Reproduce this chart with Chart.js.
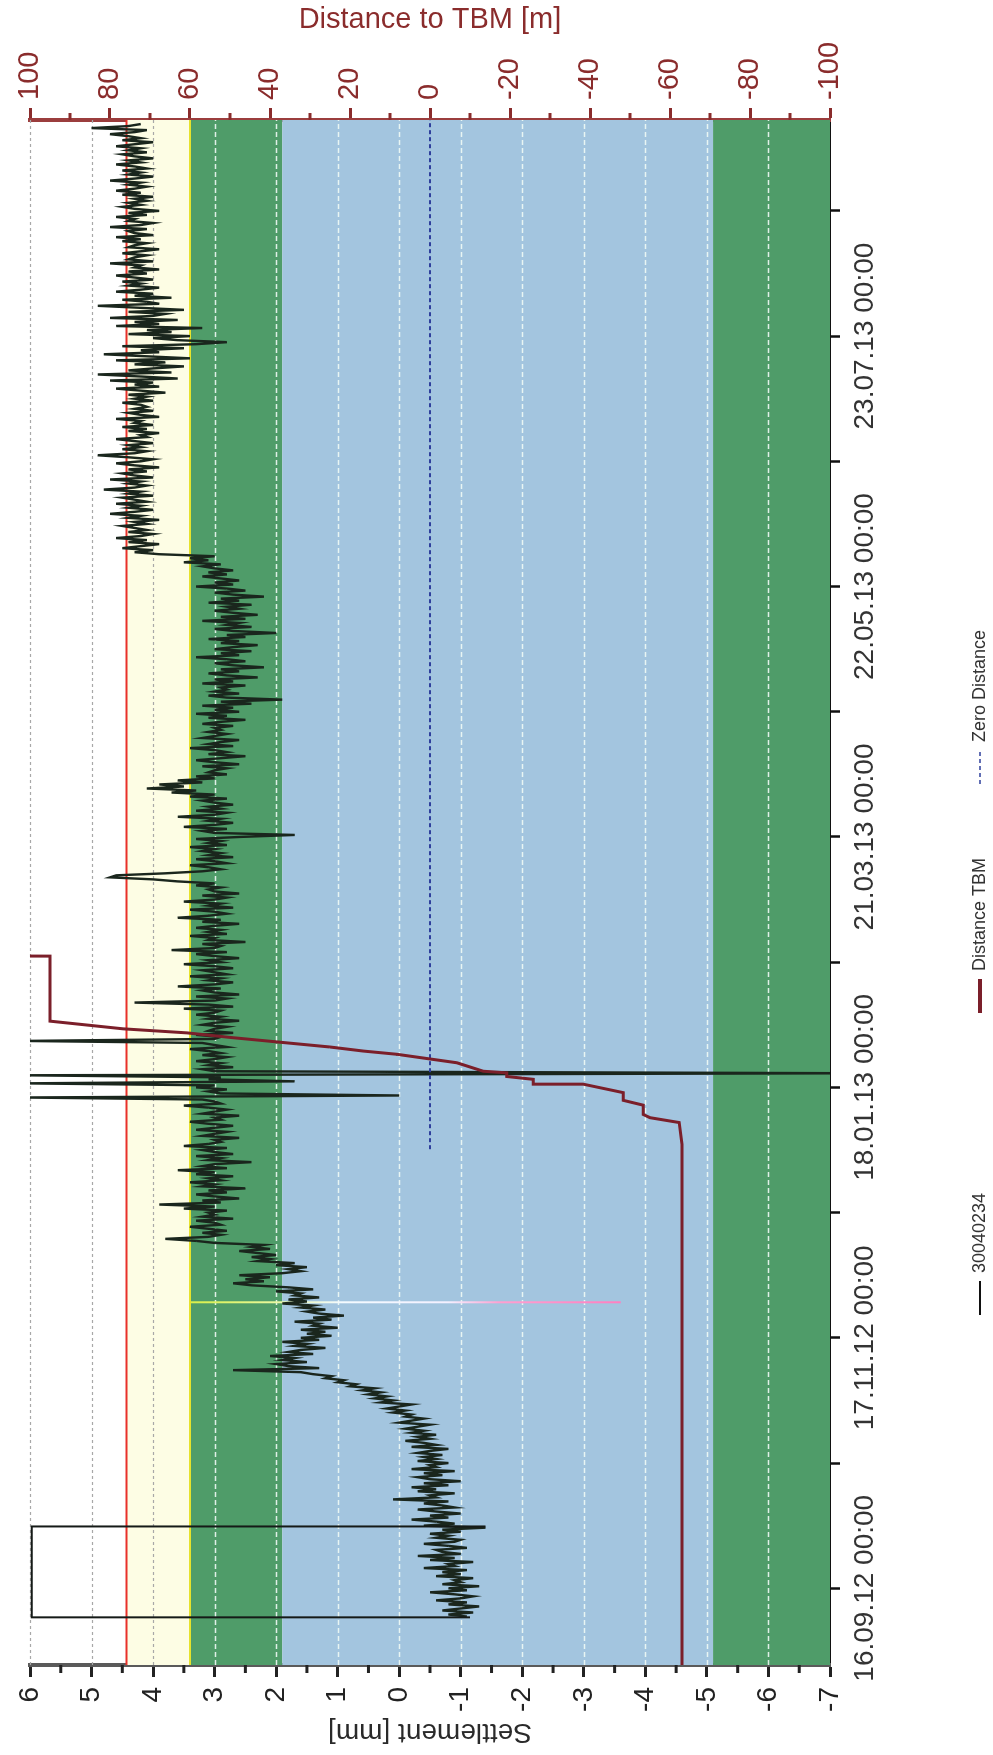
<!DOCTYPE html>
<html><head><meta charset="utf-8">
<script src="https://cdn.jsdelivr.net/npm/chart.js@4.4.0/dist/chart.umd.min.js"></script>
<style>
html,body{margin:0;padding:0;background:#fff;overflow:hidden;width:993px;height:1755px;}
#wrap{position:absolute;left:0;top:0;width:1755px;height:993px;transform-origin:0 0;transform:translate(0,1755px) rotate(-90deg);}
canvas{display:block;}
</style></head><body>
<div id="wrap"><canvas id="c" width="1755" height="993"></canvas></div>
<script>
// ---------------- DATA ----------------
// time axis: days since 16.09.12 00:00
const timeRange = [-19, 363.5];
const timeTickDays = [0, 31, 62, 93, 124, 155, 186, 217, 248, 279, 310, 341];
const timeTickLabels = ['16.09.12 00:00', '', '17.11.12 00:00', '', '18.01.13 00:00', '', '21.03.13 00:00', '', '22.05.13 00:00', '', '23.07.13 00:00', ''];

// settlement series "30040234" (12-hourly readings starting at day -7)
const settlementStartDay = -7;
const settlementStepDays = 0.5;
const settlementValues = [
-1.1,-0.8,-1.2,-0.7,-1.0,-1.3,-0.8,-1.1,-0.6,-1.0,-1.2,-0.9,-0.5,-1.1,-0.8,-1.3,-0.7,-1.0,-0.9,-1.2,
-0.6,-1.0,-0.7,-1.1,-0.4,-0.9,-0.8,-1.2,-0.5,-0.9,-0.3,-1.0,-0.7,-0.6,-1.1,-0.8,-0.4,-0.9,-1.0,-0.6,
-0.8,-0.5,-1.0,-0.7,-1.4,-0.4,-0.9,-0.6,-0.2,-0.8,-0.5,-1.0,-0.6,-0.3,-0.9,-0.7,-0.4,-0.8,0.1,-0.6,
-0.5,-0.9,-0.3,-0.6,-0.2,-0.8,-0.4,-1.0,-0.5,-0.3,-0.7,-0.4,-0.9,-0.2,-0.6,-0.5,-0.8,-0.3,-0.6,-0.4,
-0.7,-0.3,-0.5,-0.8,-0.2,-0.6,-0.4,-0.1,-0.5,-0.3,-0.6,-0.2,-0.4,-0.1,-0.3,-0.5,0.0,-0.2,-0.4,-0.1,
-0.2,0.1,-0.1,0.2,0.0,-0.2,0.3,0.1,0.4,0.2,0.5,0.3,0.6,0.4,0.8,0.7,1.0,0.9,1.2,1.1,
1.4,1.6,2.7,1.3,1.8,2.0,1.5,1.9,1.7,2.1,1.4,1.8,1.6,1.2,1.7,1.5,1.9,1.3,1.6,1.1,
1.5,1.2,1.6,1.0,1.4,1.3,1.7,1.1,1.4,0.9,1.3,1.5,1.2,1.6,1.4,1.9,1.5,1.8,1.3,1.7,
1.6,2.0,1.4,1.8,2.4,2.7,2.2,2.5,2.1,2.6,1.9,1.6,1.8,1.5,2.0,1.7,2.3,2.1,2.4,2.0,
2.3,2.6,2.1,2.4,2.2,3.0,3.3,3.8,3.1,2.9,3.2,2.8,3.1,3.4,2.9,3.0,3.3,2.7,3.2,3.0,
3.1,2.8,3.5,3.0,3.9,2.9,3.2,2.6,3.0,3.3,2.8,3.1,2.5,3.2,3.0,3.4,2.9,3.1,2.7,3.3,
3.0,3.6,2.8,3.2,3.0,2.4,3.1,2.9,3.3,2.7,3.0,3.2,2.8,3.5,3.1,2.9,3.0,2.6,3.2,3.0,
2.8,3.3,3.0,2.7,3.1,3.4,2.9,3.0,2.6,3.2,3.0,2.8,3.1,3.5,2.9,3.0,3.2,6.1,0.0,2.9,
3.1,2.8,3.3,3.0,6.1,1.7,3.1,2.9,6.1,-7.5,3.0,3.2,2.7,3.1,2.9,3.3,3.0,2.8,3.2,2.9,
3.1,3.4,2.8,3.0,3.2,6.1,3.0,2.9,3.3,2.7,3.1,3.0,2.8,3.2,3.0,2.6,3.1,2.9,3.3,3.0,
2.9,3.5,2.7,3.1,4.3,3.0,2.8,3.3,2.6,3.0,3.2,2.9,3.6,3.0,2.7,3.1,2.9,3.4,2.8,3.0,
3.2,2.7,3.0,3.5,2.9,3.1,2.6,3.0,3.3,2.8,3.7,3.0,2.9,3.2,2.5,3.1,3.0,3.4,2.8,3.1,
2.9,3.3,3.0,2.6,3.2,2.9,3.6,3.1,2.8,3.0,3.4,2.7,3.1,2.9,3.5,3.0,2.8,3.2,2.6,3.0,
3.1,2.9,3.3,3.0,3.6,4.0,4.7,4.6,3.8,3.2,2.9,3.1,3.4,2.8,3.0,3.3,2.7,3.1,2.9,3.2,
3.0,3.4,2.8,3.1,2.9,3.3,2.6,1.7,3.0,3.2,2.8,3.5,3.0,2.7,3.1,2.9,3.6,3.0,2.8,3.3,
2.9,3.1,2.7,3.0,3.2,2.8,3.4,3.0,3.7,3.3,4.1,3.5,3.9,3.2,3.6,3.0,3.3,2.8,3.1,3.0,
2.8,3.2,2.6,3.0,3.3,2.9,2.5,3.1,2.8,3.0,3.4,2.7,3.1,2.9,2.6,3.2,3.0,2.8,3.1,2.9,
3.0,2.7,3.2,2.9,2.5,3.1,2.8,3.3,2.6,3.0,2.7,3.2,2.4,2.9,1.9,2.8,3.1,2.6,3.0,2.8,
2.9,2.5,3.2,2.7,3.0,2.3,2.8,3.1,2.6,2.9,2.2,2.7,3.0,2.5,2.8,3.3,2.6,2.9,2.4,3.0,
2.7,2.3,2.9,2.6,3.1,2.5,2.8,2.0,2.7,3.0,2.4,2.8,2.6,3.2,2.5,2.9,2.3,2.7,3.0,2.6,
2.8,2.4,3.1,2.6,2.9,2.2,2.7,3.0,2.5,2.8,3.3,2.7,3.0,2.6,2.9,3.2,2.8,3.1,2.7,3.0,
3.2,2.9,3.5,3.1,3.4,3.0,3.9,4.3,4.0,4.5,4.2,3.9,4.4,4.1,4.6,4.2,4.0,4.4,4.1,4.3,
4.5,4.1,4.3,3.9,4.4,4.2,4.7,4.3,4.0,4.4,4.2,4.6,4.1,4.3,4.5,4.0,4.4,4.2,4.8,4.3,
4.1,4.4,4.2,4.7,4.0,4.3,4.5,4.1,4.4,3.9,4.3,4.6,4.2,4.0,4.4,4.9,4.3,4.1,4.5,4.2,
4.4,4.0,4.3,4.6,4.1,4.2,3.9,4.4,4.1,4.5,4.0,4.3,4.2,4.6,3.9,4.2,4.4,4.0,4.3,4.1,
4.2,4.5,4.0,4.3,4.1,4.4,3.8,4.2,4.6,3.9,4.3,4.0,4.7,3.6,4.2,4.9,3.7,4.4,4.0,3.5,
4.3,3.8,4.6,3.4,4.1,4.8,3.9,4.2,3.5,4.5,3.3,2.8,3.6,4.0,3.4,4.4,3.7,4.1,3.2,4.6,
3.9,4.3,3.6,4.7,4.0,3.8,4.4,3.5,4.2,4.9,3.9,4.1,4.5,3.7,4.3,4.0,4.6,4.2,3.9,4.4,
4.2,4.5,4.0,4.3,4.6,4.1,4.4,3.9,4.3,4.2,4.7,4.0,4.4,4.3,4.1,4.5,4.2,3.9,4.4,4.3,
4.1,4.5,4.2,4.6,4.0,4.3,4.4,4.1,4.7,4.2,4.0,4.4,4.3,4.6,4.1,4.4,3.9,4.3,4.5,4.2,
4.4,4.1,4.3,4.0,4.5,4.2,4.6,4.3,4.1,4.4,4.2,4.7,4.3,4.0,4.4,4.2,4.5,4.1,4.3,4.6,
4.2,4.4,4.0,4.3,4.5,4.1,4.4,4.2,4.6,4.3,4.0,4.5,4.2,4.4,4.7,4.3,4.1,5.0,4.4,4.2
];
// out-of-order readings of the same sensor (the rectangle near the start)
const outlierDays = [-7.2, -7.2, 15.3, 15.3];
const outlierValues = [-1.15, 5.97, 5.97, -1.4];

// Distance TBM [m]
const distanceDays = [-19, 109.9, 115.3, 116.5, 117.3, 119.6, 120.8, 122.7, 124.8, 124.8, 126.0, 126.7, 127.6, 128.0, 130.1, 132.2, 133.0, 134.0, 136.3, 137.5, 138.5, 140.4, 156.5, 156.6, 363.5];
const distanceValues = [-63, -63, -62.3, -55, -53.3, -53.3, -48.3, -48.3, -38.3, -25.8, -25.8, -19.2, -19.2, -13.3, -6.7, 8.3, 16.7, 25, 49.2, 60.8, 76.7, 95, 95, 130, 130];

// Zero Distance
const zeroDays = [108.7, 363.5];
const zeroValues = [0, 0];

// settlement thresholds / bands [mm]
const alarmLevel = 4.43;
const warningLevel = 3.4;
const bandHigh = [4.43, 3.4, 1.9, -5.1];
const bandLow = [3.4, 1.9, -5.1, -7];
const markerDay = 70.8;
const markerRange = [3.4, -3.6];

// axis ticks
const settlementMinor = [5.5, 4.5, 3.5, 2.5, 1.5, 0.5, -0.5, -1.5, -2.5, -3.5, -4.5, -5.5, -6.5];
const settlementGrid = [6, 5, 4, 3, 2, 1, 0, -1, -2, -3, -4, -5, -6];
const distanceMinor = [90, 70, 50, 30, 10, -10, -30, -50, -70, -90];

// ---------------- STYLE ----------------
const FONT = '"Liberation Sans", Arial, Helvetica, sans-serif';
const bandColors = ['#fdfde4', '#4f9c69', '#a3c5df', '#4f9c69'];
const DARKRED = '#8a2c2c';

const pts = (xs, ys) => xs.map((x, i) => ({x: x, y: ys[i]}));
const settlementPts = settlementValues.map((v, i) => ({x: settlementStartDay + i * settlementStepDays, y: v}));

const bandsPlugin = {
  id: 'bands',
  beforeDatasetsDraw(chart) {
    const {ctx, chartArea: a, scales: {y}} = chart;
    ctx.save();
    for (let i = 0; i < bandHigh.length; i++) {
      const y1 = y.getPixelForValue(bandHigh[i]);
      const y2 = y.getPixelForValue(bandLow[i]);
      ctx.fillStyle = bandColors[i];
      ctx.fillRect(a.left, y1, a.right - a.left, y2 - y1);
    }
    settlementGrid.forEach(v => {
      const py = Math.round(y.getPixelForValue(v)) + 0.5;
      const light = v < warningLevel;
      ctx.beginPath();
      ctx.setLineDash(light ? [5, 3] : [3, 3]);
      ctx.strokeStyle = light ? 'rgba(240,250,245,0.9)' : '#a8a8a8';
      ctx.lineWidth = light ? 1.6 : 1.2;
      ctx.moveTo(a.left, py); ctx.lineTo(a.right, py); ctx.stroke();
    });
    ctx.restore();
  },
  afterDraw(chart) {
    const {ctx, chartArea: a, scales: {y, y2}} = chart;
    ctx.save();
    ctx.lineWidth = 3; ctx.strokeStyle = '#222';
    settlementMinor.forEach(v => {
      const py = y.getPixelForValue(v);
      ctx.beginPath(); ctx.moveTo(a.left, py); ctx.lineTo(a.left - 8, py); ctx.stroke();
    });
    ctx.strokeStyle = DARKRED;
    distanceMinor.forEach(v => {
      const py = y2.getPixelForValue(v);
      ctx.beginPath(); ctx.moveTo(a.right, py); ctx.lineTo(a.right + 7, py); ctx.stroke();
    });
    // legend
    const ly = 980;
    const items = [
      {ds: 0, x: 440},
      {ds: 2, x: 742},
      {ds: 3, x: 971}
    ];
    ctx.font = '18px ' + FONT;
    ctx.textBaseline = 'middle';
    ctx.textAlign = 'left';
    items.forEach(it => {
      const d = chart.data.datasets[it.ds];
      ctx.beginPath();
      ctx.setLineDash(d.borderDash || []);
      ctx.strokeStyle = d.legendColor || d.borderColor;
      ctx.lineWidth = d.legendWidth || 2;
      ctx.moveTo(it.x, ly); ctx.lineTo(it.x + 34, ly); ctx.stroke();
      ctx.setLineDash([]);
      ctx.fillStyle = '#333';
      ctx.fillText(d.label, it.x + 42, ly);
    });
    ctx.restore();
  }
};

const markerGradient = (c) => {
  const chart = c.chart;
  if (!chart.chartArea) return '#ffffff';
  const ys = chart.scales.y;
  const g = chart.ctx.createLinearGradient(0, ys.getPixelForValue(markerRange[0]), 0, ys.getPixelForValue(markerRange[1]));
  g.addColorStop(0, '#d8f048');
  g.addColorStop(0.2, '#e8f8a0');
  g.addColorStop(0.35, '#f4fbff');
  g.addColorStop(0.6, '#f4f0ff');
  g.addColorStop(0.72, '#ff9fd0');
  g.addColorStop(1, '#ff7fc0');
  return g;
};

const chart = new Chart(document.getElementById('c'), {
  type: 'line',
  data: {
    datasets: [
      {label: '30040234', data: settlementPts, borderColor: '#1a261d', legendColor: '#111', borderWidth: 2.4, pointRadius: 0, order: 3, yAxisID: 'y'},
      {label: '30040234 ', data: pts(outlierDays, outlierValues), borderColor: '#151a17', borderWidth: 2, pointRadius: 0, order: 2, yAxisID: 'y'},
      {label: 'Distance TBM', data: pts(distanceDays, distanceValues), borderColor: '#7b1f2a', borderWidth: 3, legendWidth: 4, pointRadius: 0, order: 0, yAxisID: 'y2'},
      {label: 'Zero Distance', data: pts(zeroDays, zeroValues), borderColor: '#2e3f9c', borderWidth: 2, borderDash: [4, 3], legendWidth: 1.5, pointRadius: 0, order: 1, yAxisID: 'y2'},
      {label: 'alarm', data: pts(timeRange, [alarmLevel, alarmLevel]), borderColor: '#e8312a', borderWidth: 2, pointRadius: 0, order: 4, yAxisID: 'y'},
      {label: 'warning', data: pts(timeRange, [warningLevel, warningLevel]), borderColor: '#e6e22c', borderWidth: 2, pointRadius: 0, order: 5, yAxisID: 'y'},
      {label: 'marker', data: pts([markerDay, markerDay], markerRange), borderColor: markerGradient, borderWidth: 2, pointRadius: 0, order: 6, yAxisID: 'y'}
    ]
  },
  options: {
    responsive: false,
    animation: false,
    devicePixelRatio: 1,
    layout: {padding: {top: 30, left: 0, right: 0, bottom: 0}},
    plugins: {legend: {display: false}, tooltip: {enabled: false}},
    elements: {line: {tension: 0}},
    scales: {
      x: {
        type: 'linear', position: 'bottom', min: timeRange[0], max: timeRange[1],
        afterBuildTicks: s => { s.ticks = timeTickDays.map(v => ({value: v})); },
        afterFit: s => { s.height = 163; },
        ticks: {autoSkip: false, maxRotation: 0, minRotation: 0, padding: 8, color: '#333',
          font: {family: FONT, size: 28}, callback: (v, i) => timeTickLabels[i]},
        grid: {drawOnChartArea: false, drawTicks: true, tickLength: 10, tickColor: '#111', tickWidth: 2.5},
        border: {display: true, color: '#111', width: 2}
      },
      y: {
        type: 'linear', position: 'left', min: -7, max: 6,
        afterFit: s => { s.width = 90; },
        ticks: {stepSize: 1, padding: 10, color: '#222', font: {family: FONT, size: 28}},
        grid: {drawOnChartArea: false, drawTicks: true, tickLength: 12, tickColor: '#222', tickWidth: 3},
        border: {display: true, color: '#5a5a5a', width: 4},
        title: {display: true, text: 'Settlement [mm]', color: '#2a2a2a', font: {family: FONT, size: 28}, padding: {top: 6, bottom: 0}}
      },
      y2: {
        type: 'linear', position: 'right', min: -100, max: 100,
        afterFit: s => { s.width = 120; },
        ticks: {stepSize: 20, padding: 8, color: DARKRED, font: {family: FONT, size: 29}},
        grid: {drawOnChartArea: false, drawTicks: true, tickLength: 12, tickColor: DARKRED, tickWidth: 3},
        border: {display: true, color: '#9b3d3d', width: 4},
        title: {display: true, text: 'Distance to TBM [m]', color: DARKRED, font: {family: FONT, size: 29}, padding: {top: 3, bottom: 0}}
      }
    }
  },
  plugins: [bandsPlugin]
});
</script></body></html>
